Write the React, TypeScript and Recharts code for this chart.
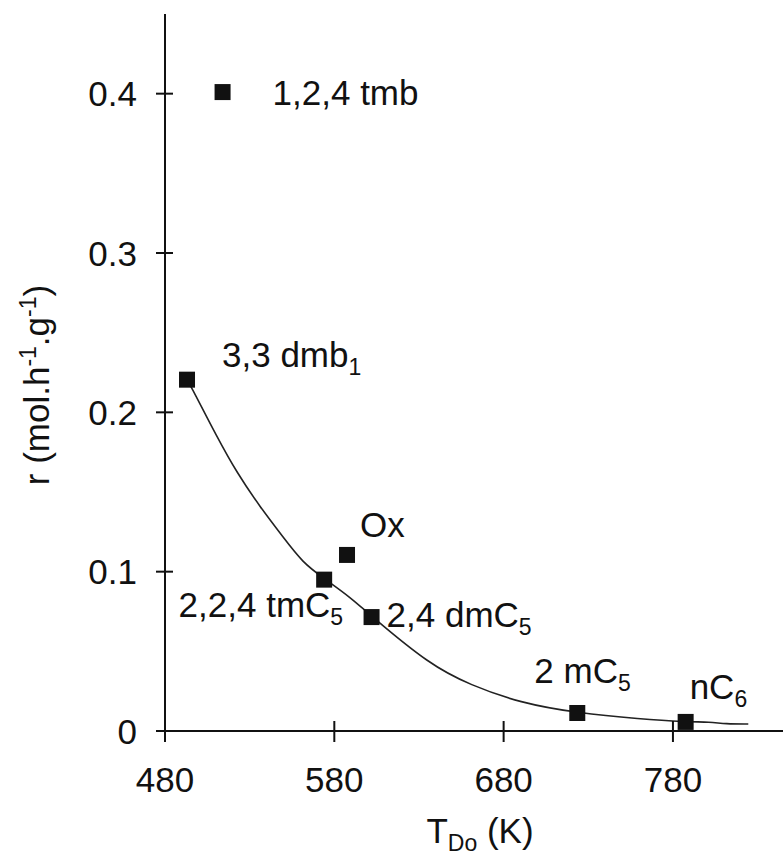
import { ComposedChart, Line, Scatter, XAxis, YAxis } from 'recharts'

// measured points (T in K, r in mol/h/g)
const POINT_NAMES = ['1,2,4 tmb', '3,3 dmb', 'Ox', '2,2,4 tmC', '2,4 dmC', '2 mC', 'nC']
const POINT_SUBS = ['', '1', '', '5', '5', '5', '6']
const POINT_T = [514, 493, 587.5, 574, 602, 723.5, 787.5]
const POINT_R = [0.401, 0.2205, 0.1105, 0.095, 0.0715, 0.0113, 0.0057]

// fitted curve
const CURVE_T = [493, 496.5, 510.7, 522.5, 536.1, 549.7, 561.5, 573.4, 589.3, 601.1, 636.6, 660.2, 689.8, 723.4, 760.6, 787.8, 802, 811, 824.5]
const CURVE_R = [0.2205, 0.214, 0.1846, 0.162, 0.1407, 0.1218, 0.1055, 0.0961, 0.0841, 0.0728, 0.0414, 0.0289, 0.0176, 0.0113, 0.0075, 0.0057, 0.0057, 0.0044, 0.0044]

const X_TICKS = [480, 580, 680, 780]
const Y_TICKS = [0, 0.1, 0.2, 0.3, 0.4]

// label placement relative to marker centre (px)
const LABEL_DX = [50, 35, 13, 19, 15, -43, 4]
const LABEL_DY = [12.5, -13, -18, 37.5, 10, -30, -23]
const LABEL_ANCHOR = ['start', 'start', 'start', 'end', 'start', 'start', 'start']

const FONT = '"Liberation Sans", Arial, Helvetica, sans-serif'
const INK = '#111'

const points = POINT_T.map((t, i) => ({ x: t, y: POINT_R[i], idx: i }))
const curve = CURVE_T.map((t, i) => ({ x: t, y: CURVE_R[i] }))

function XTick({ x, y, payload }: any) {
  return (
    <g>
      <line x1={x} x2={x} y1={y - 10} y2={y + 11} stroke={INK} strokeWidth={2} />
      <text x={x} y={y + 61} textAnchor="middle" fontSize={35} fontFamily={FONT} fill={INK}>
        {payload.value}
      </text>
    </g>
  )
}

function YTick({ x, y, payload }: any) {
  const v = payload.value === 0 ? '0' : payload.value.toFixed(1)
  return (
    <g>
      <line x1={x - 9} x2={x + 8} y1={y} y2={y} stroke={INK} strokeWidth={2} />
      <text x={x - 28} y={y + 12.5} textAnchor="end" fontSize={35} fontFamily={FONT} fill={INK}>
        {v}
      </text>
    </g>
  )
}

function Marker(props: any) {
  const { cx, cy, payload } = props
  const i = payload.idx
  return (
    <g>
      <rect x={cx - 8} y={cy - 8} width={16} height={16} fill={INK} />
      <text
        x={cx + LABEL_DX[i]}
        y={cy + LABEL_DY[i]}
        textAnchor={LABEL_ANCHOR[i]}
        fontSize={35}
        fontFamily={FONT}
        fill={INK}
      >
        {POINT_NAMES[i]}
        {POINT_SUBS[i] && (
          <tspan fontSize={23} dy={8}>
            {POINT_SUBS[i]}
          </tspan>
        )}
      </text>
    </g>
  )
}

export default function App() {
  return (
    <div style={{ position: 'absolute', left: 0, top: 0, width: 783, height: 855, background: '#fff' }}>
      <ComposedChart width={783} height={855} margin={{ top: 14, right: 0, left: 0, bottom: 64 }}>
        <XAxis
          dataKey="x"
          type="number"
          domain={[480, 845]}
          ticks={X_TICKS}
          allowDataOverflow
          height={60}
          tickSize={0}
          tickMargin={0}
          tickLine={false}
          axisLine={{ stroke: INK, strokeWidth: 2 }}
          tick={<XTick />}
          label={{
            content: () => (
              <text x={480} y={843} textAnchor="middle" fontSize={35} fontFamily={FONT} fill={INK}>
                T
                <tspan fontSize={23} dy={8}>Do</tspan>
                <tspan dy={-8}> (K)</tspan>
              </text>
            ),
          }}
        />
        <YAxis
          dataKey="y"
          type="number"
          domain={[0, 0.45]}
          ticks={Y_TICKS}
          allowDataOverflow
          width={165}
          tickSize={0}
          tickMargin={0}
          tickLine={false}
          axisLine={{ stroke: INK, strokeWidth: 2 }}
          tick={<YTick />}
          label={{
            content: () => (
              <text
                x={49}
                y={385}
                transform="rotate(-90, 49, 385)"
                textAnchor="middle"
                fontSize={35}
                fontFamily={FONT}
                fill={INK}
              >
                r (mol.h
                <tspan fontSize={23} dy={-13}>-1</tspan>
                <tspan dy={13}>.g</tspan>
                <tspan fontSize={23} dy={-13}>-1</tspan>
                <tspan dy={13}>)</tspan>
              </text>
            ),
          }}
        />
        <Line
          data={curve}
          dataKey="y"
          type="basis"
          stroke="#222"
          strokeWidth={1.6}
          dot={false}
          activeDot={false}
          isAnimationActive={false}
        />
        <Scatter data={points} dataKey="y" shape={<Marker />} isAnimationActive={false} />
      </ComposedChart>
    </div>
  )
}
